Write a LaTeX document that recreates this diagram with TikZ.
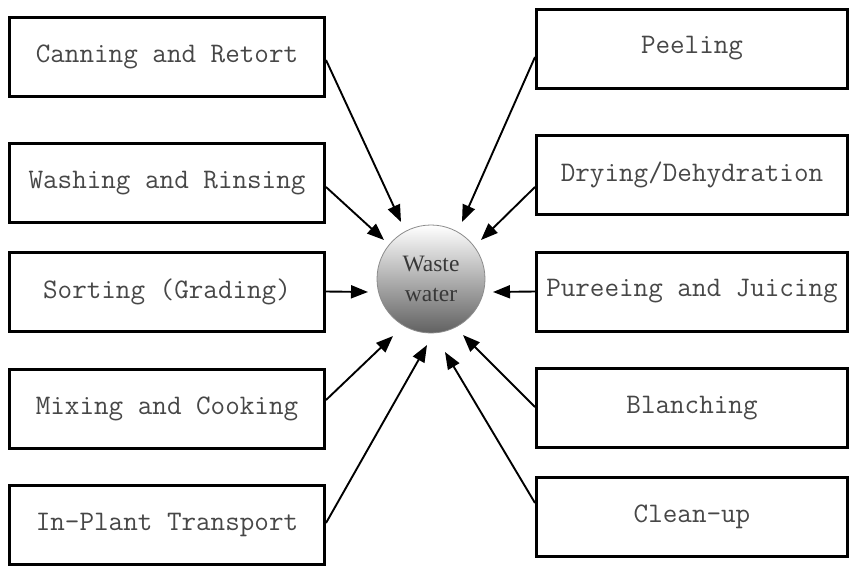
\documentclass[tikz,border=0pt]{standalone}
\usepackage{fontspec}
\setmainfont{Liberation Serif}
\usetikzlibrary{arrows.meta}
\begin{document}
\begin{tikzpicture}[x=1pt,y=-1pt,
  stepbox/.style={draw=black,line width=3pt,minimum width=315pt,minimum height=79pt,
    inner sep=0pt,font=\ttfamily\fontsize{28.3}{30}\selectfont,text=black!72},
  rbox/.style={stepbox,minimum width=311pt},
  flow/.style={line width=1.9pt,-{Triangle[length=17pt,width=13pt]}},
  hub/.style={circle,minimum size=108pt,inner sep=0pt,draw=black!45,line width=0.8pt,
    top color=white,middle color=black!6,bottom color=black!62,align=center,
    font=\fontsize{23.5}{30}\selectfont,text=black!78}]
\useasboundingbox (0,0) rectangle (850,568);
% left boxes
\node[stepbox] (can) at (167,57) {Canning and Retort};
\node[stepbox] (wash) at (167,183) {Washing and Rinsing};
\node[stepbox] (sort) at (167,291.5) {Sorting (Grading)};
\node[stepbox] (mix) at (167,408.5) {Mixing and Cooking};
\node[stepbox] (trans) at (167,524.5) {In-Plant Transport};
% right boxes
\node[rbox] (peel) at (692,48.5) {Peeling};
\node[rbox] (dry) at (692,174.5) {Drying/Dehydration};
\node[rbox] (pure) at (692,291.5) {Pureeing and Juicing};
\node[rbox] (blan) at (692,408) {Blanching};
\node[rbox] (clean) at (692,516.5) {Clean-up};
% hub
\node[hub] (ww) at (431,279) {Waste\\water};
% arrow tips
\coordinate (tcan) at (401,222);
\coordinate (twash) at (384,240);
\coordinate (tsort) at (368,292);
\coordinate (tmix) at (393,336);
\coordinate (ttrans) at (427,345);
\coordinate (tpeel) at (462,222);
\coordinate (tdry) at (481,240);
\coordinate (tpure) at (493,292);
\coordinate (tblan) at (463,335);
\coordinate (tclean) at (445,352);
% connectors
\draw[flow] ([yshift=-3pt]can.east) -- (tcan);
\draw[flow] ([yshift=-4pt]wash.east) -- (twash);
\draw[flow] (sort.east) -- (tsort);
\draw[flow] ([yshift=8.5pt]mix.east) -- (tmix);
\draw[flow] ([yshift=1.5pt]trans.east) -- (ttrans);
\draw[flow] ([yshift=-8.5pt]peel.west) -- (tpeel);
\draw[flow] ([yshift=-12.5pt]dry.west) -- (tdry);
\draw[flow] (pure.west) -- (tpure);
\draw[flow] ([yshift=1pt]blan.west) -- (tblan);
\draw[flow] ([yshift=13.5pt]clean.west) -- (tclean);
\end{tikzpicture}
\end{document}
